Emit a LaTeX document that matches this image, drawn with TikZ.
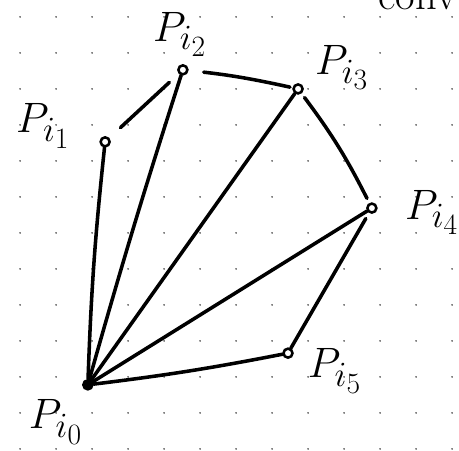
\documentclass[tikz,border=0pt]{standalone}
\begin{document}
\begin{tikzpicture}[x=1cm,y=1cm,
  lbl/.style={font=\Huge,scale=1.35,transform shape},
  pt/.style={circle,draw,line width=2pt,inner sep=0pt,minimum size=0.25cm},
  stroke/.style={line width=2.8pt,line cap=round}]
  \useasboundingbox (0,0) rectangle (12.75,-12.528);
  % dotted paper
  \foreach \i in {0,...,12}
    \foreach \j in {0,...,12}
      \fill (0.556+\i,-0.472-\j) circle (0.6pt);
  % points of the polygon
  \node[pt,fill] (p0) at (2.44,-10.69) {};
  \node[pt] (p1) at (2.92,-3.94) {};
  \node[pt] (p2) at (5.08,-1.94) {};
  \node[pt] (p3) at (8.28,-2.47) {};
  \node[pt] (p4) at (10.33,-5.78) {};
  \node[pt] (p5) at (8.00,-9.81) {};
  % labels
  \node[lbl] (l0) at (1.55,-11.72) {$P_{i_0}$};
  \node[lbl] (l1) at (1.20,-3.50) {$P_{i_1}$};
  \node[lbl] (l2) at (5.00,-0.95) {$P_{i_2}$};
  \node[lbl] (l3) at (9.50,-1.88) {$P_{i_3}$};
  \node[lbl] (l4) at (12.00,-5.90) {$P_{i_4}$};
  \node[lbl] (l5) at (9.30,-10.30) {$P_{i_5}$};
  \node[lbl,anchor=base] (conv) at (11.6,-0.27) {conv};
  % boundary
  \draw[stroke,shorten <=12pt,shorten >=10pt] (p1) -- (p2);
  \draw[stroke,shorten <=12pt,shorten >=2pt] (p2) to[bend left=3] (p3);
  \draw[stroke,shorten <=4pt,shorten >=4pt] (p3) to[bend left=5] (p4);
  \draw[stroke,shorten <=5pt] (p4) -- (p5);
  \draw[stroke] (p0) to[bend right=2] (p5);
  \draw[stroke] (p0) to[bend left=2] (p1);
  % fan from p0
  \draw[stroke] (p0) to[bend left=1] (p2);
  \draw[stroke] (p0) -- (p3);
  \draw[stroke] (p0) -- (p4);
\end{tikzpicture}
\end{document}
